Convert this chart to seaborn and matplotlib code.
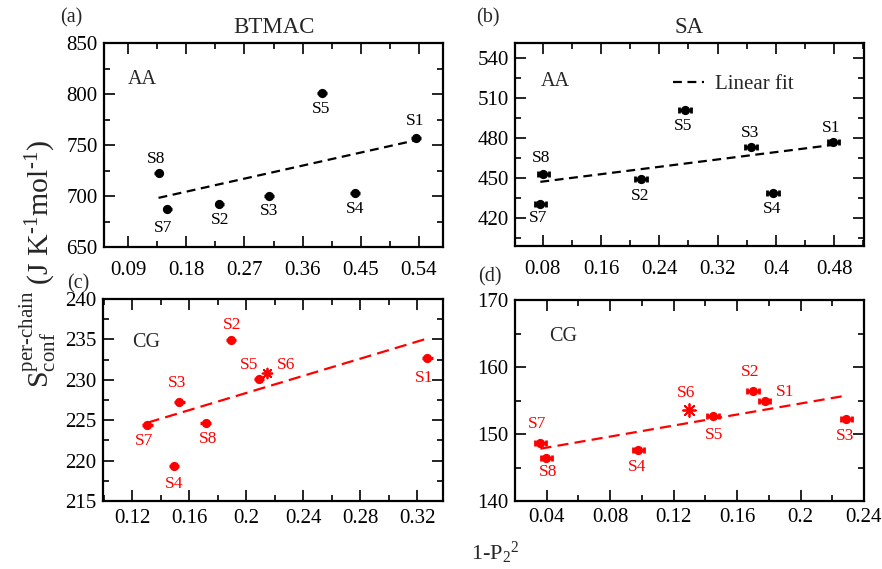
import numpy as np
import pandas as pd
import matplotlib
matplotlib.use("Agg")
import matplotlib.pyplot as plt
import seaborn as sns
from matplotlib.ticker import FixedLocator, MultipleLocator, FuncFormatter

sns.set_style("ticks")
plt.rcParams["font.family"] = ["Liberation Serif", "DejaVu Serif"]
plt.rcParams["mathtext.fontset"] = "custom"
plt.rcParams["mathtext.rm"] = "Liberation Serif"
plt.rcParams["mathtext.it"] = "Liberation Serif:italic"
plt.rcParams["mathtext.bf"] = "Liberation Serif:bold"

# ---- data: 1-P2^2 (x) vs per-chain conformational entropy (y) ----
aa_labels = ["S1", "S2", "S3", "S4", "S5", "S7", "S8"]
cg_labels = ["S1", "S2", "S3", "S4", "S5", "S6", "S7", "S8"]

btmac_aa_x = [0.5365, 0.2312, 0.3083, 0.4418, 0.3900, 0.1505, 0.1366]
btmac_aa_y = [756.6, 692.6, 700.2, 702.5, 800.8, 687.7, 722.1]

sa_aa_x = [0.4790, 0.2149, 0.3657, 0.3963, 0.2757, 0.0768, 0.0810]
sa_aa_y = [477.0, 448.8, 473.5, 438.5, 501.0, 430.8, 452.8]

btmac_cg_x = [0.3270, 0.1894, 0.1531, 0.1493, 0.2089, 0.2145, 0.1308, 0.1716]
btmac_cg_y = [232.7, 234.9, 227.2, 219.3, 230.1, 230.8, 224.4, 224.6]

sa_cg_x = [0.1773, 0.1699, 0.2288, 0.0978, 0.1447, 0.1294, 0.0360, 0.0398]
sa_cg_y = [155.0, 156.4, 152.3, 147.6, 152.7, 153.6, 148.7, 146.4]

# x-uncertainty of each set
btmac_aa_xerr = 0.0075
sa_aa_xerr = 0.0080
btmac_cg_xerr = 0.0037
sa_cg_xerr = 0.0036

# axis ticks
btmac_aa_xticks = [0.09, 0.18, 0.27, 0.36, 0.45, 0.54]
btmac_aa_yticks = [650, 700, 750, 800, 850]
sa_aa_xticks = [0.08, 0.16, 0.24, 0.32, 0.40, 0.48]
sa_aa_yticks = [420, 450, 480, 510, 540]
btmac_cg_xticks = [0.12, 0.16, 0.20, 0.24, 0.28, 0.32]
btmac_cg_yticks = [215, 220, 225, 230, 235, 240]
sa_cg_xticks = [0.04, 0.08, 0.12, 0.16, 0.20, 0.24]
sa_cg_yticks = [140, 150, 160, 170]

RED = "#ff0000"
BLACK = "#000000"

# label offsets (pixels) relative to each marker
off_btmac_aa = {"S1": (-1, 17), "S2": (1, -16), "S3": (0, -15), "S4": (0, -16),
                "S5": (-1, -16), "S7": (-4, -19), "S8": (-2, 14)}
off_sa_aa = {"S1": (-2, 14), "S2": (-1, -17), "S3": (-1, 14), "S4": (-1, -16),
             "S5": (-2, -16), "S7": (-2, -14), "S8": (-2, 16)}
off_btmac_cg = {"S1": (-3, -20), "S2": (1, 15), "S3": (-2, 19), "S4": (0, -18),
                "S5": (-10, 14), "S6": (19, 8), "S7": (-3, -16), "S8": (2, -16)}
off_sa_cg = {"S1": (21, 9), "S2": (-3, 19), "S3": (-1, -17), "S4": (-1, -17),
             "S5": (1, -19), "S6": (-2, 17), "S7": (-3, 19), "S8": (2, -14)}

fig = plt.figure(figsize=(8.82, 5.69), dpi=100)
W, H = 882.0, 569.0


def add_axes(left, right, top, bottom):
    return fig.add_axes([left / W, 1 - bottom / H, (right - left) / W, (bottom - top) / H])


ax_a = add_axes(104, 443, 43, 247)
ax_b = add_axes(515, 864, 43, 246)
ax_c = add_axes(103, 443, 299, 501)
ax_d = add_axes(515, 864, 300, 501)

fmt = FuncFormatter(lambda v, p: f"{v:g}")


def draw_panel(ax, labels, xs, ys, xerr, color, cap, dashes, offsets,
               xlim, ylim, xticks, xminor, yticks, yminor, xpad, star=None,
               star_size=80, fit_label=None):
    df = pd.DataFrame({"label": labels, "x": xs, "y": ys})
    # linear fit over all points
    coef = np.polyfit(df["x"], df["y"], 1)
    fx = np.array([df["x"].min(), df["x"].max()])
    sns.lineplot(x=fx, y=np.polyval(coef, fx), ax=ax, color=color, lw=1.6,
                 linestyle=(0, dashes), label=fit_label, legend=False, zorder=1)
    pts = df[df["label"] != star]
    ax.errorbar(pts["x"], pts["y"], xerr=xerr, fmt="none", ecolor=color,
                elinewidth=2.4, capsize=cap, capthick=2.0, zorder=2)
    sns.scatterplot(data=pts, x="x", y="y", ax=ax, color=color, s=44,
                    edgecolor=color, linewidth=0, zorder=3, legend=False)
    if star is not None:
        st = df[df["label"] == star]
        sns.scatterplot(data=st, x="x", y="y", ax=ax, color=color, s=star_size,
                        marker=(8, 2, 0), linewidth=1.3, zorder=3, legend=False)
    for _, r in df.iterrows():
        ax.annotate(r["label"], (r["x"], r["y"]), xytext=offsets[r["label"]],
                    textcoords="offset pixels", ha="center", va="center",
                    fontsize=12.5, color=color)
    ax.set_xlim(*xlim)
    ax.set_ylim(*ylim)
    ax.xaxis.set_major_locator(FixedLocator(xticks))
    ax.xaxis.set_minor_locator(MultipleLocator(xminor))
    ax.yaxis.set_major_locator(FixedLocator(yticks))
    ax.yaxis.set_minor_locator(MultipleLocator(yminor))
    ax.xaxis.set_major_formatter(fmt)
    ax.yaxis.set_major_formatter(fmt)
    ax.set_xlabel("")
    ax.set_ylabel("")
    ax.tick_params(which="both", direction="in", top=True, right=True,
                   width=1.2, colors="black", labelsize=15)
    ax.tick_params(which="major", length=8)
    ax.tick_params(which="minor", length=4.5)
    ax.tick_params(axis="x", which="major", pad=xpad)
    ax.tick_params(axis="y", which="major", pad=4.5)
    for s in ax.spines.values():
        s.set_linewidth(1.6)
        s.set_color("black")


draw_panel(ax_a, aa_labels, btmac_aa_x, btmac_aa_y, btmac_aa_xerr, BLACK, 0,
           (4, 2.5), off_btmac_aa, (0.052, 0.578), (650, 850),
           btmac_aa_xticks, 0.045, btmac_aa_yticks, 25, 10)
draw_panel(ax_b, aa_labels, sa_aa_x, sa_aa_y, sa_aa_xerr, BLACK, 2.2,
           (4, 2.5), off_sa_aa, (0.042, 0.521), (399, 551),
           sa_aa_xticks, 0.04, sa_aa_yticks, 15, 10, fit_label="Linear fit")
draw_panel(ax_c, cg_labels, btmac_cg_x, btmac_cg_y, btmac_cg_xerr, RED, 0,
           (5.5, 2.8), off_btmac_cg, (0.0996, 0.338), (215, 240),
           btmac_cg_xticks, 0.02, btmac_cg_yticks, 2.5, 6, star="S6",
           star_size=50)
draw_panel(ax_d, cg_labels, sa_cg_x, sa_cg_y, sa_cg_xerr, RED, 2.2,
           (5, 2.8), off_sa_cg, (0.02, 0.24), (140, 170),
           sa_cg_xticks, 0.02, sa_cg_yticks, 5, 5, star="S6", star_size=85)

ax_b.legend(loc="center left", bbox_to_anchor=(0.453, 0.798), frameon=False,
            fontsize=15, handlelength=1.5, handletextpad=0.5, borderpad=0,
            borderaxespad=0)

ax_a.set_title("BTMAC", fontsize=16.5, pad=7)
ax_b.set_title("SA", fontsize=16.5, pad=7)

ax_a.text(0.071, 0.868, "AA", transform=ax_a.transAxes, fontsize=14.5, va="top")
ax_b.text(0.0745, 0.857, "AA", transform=ax_b.transAxes, fontsize=14.5, va="top")
ax_c.text(0.087, 0.833, "CG", transform=ax_c.transAxes, fontsize=14.5, va="top")
ax_d.text(0.097, 0.866, "CG", transform=ax_d.transAxes, fontsize=14.5, va="top")

for tag, x, y in [("(a)", 60, 18), ("(b)", 476, 18), ("(c)", 67, 284), ("(d)", 478, 277)]:
    fig.text(x / W, 1 - y / H, tag, fontsize=14.5, ha="left", va="center")

fig.text(38 / W, 1 - 264 / H,
         r"$\mathregular{S_{conf}^{per\text{-}chain}\ (J\ K^{\text{-}1}mol^{\text{-}1})}$",
         rotation=90, ha="center", va="center", fontsize=21.5)
fig.text(495 / W, 1 - 553 / H, r"$\mathregular{1\text{-}P_2{}^2}$",
         ha="center", va="center", fontsize=16)

fig.savefig("out.png", dpi=100)
